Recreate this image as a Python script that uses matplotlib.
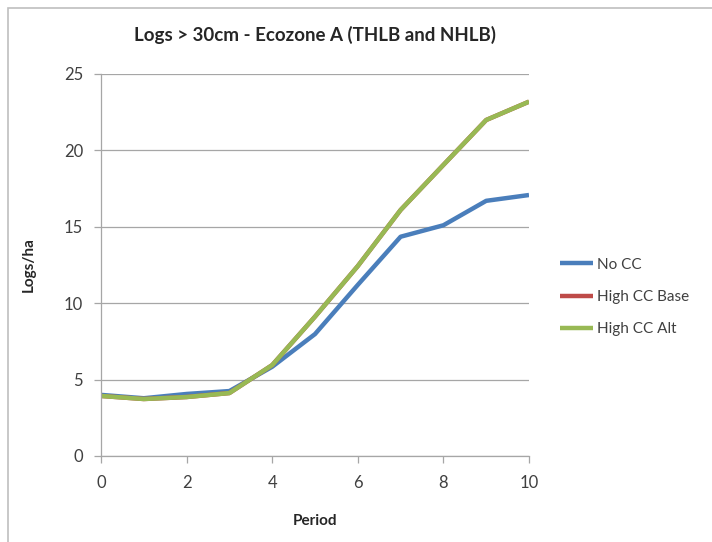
import matplotlib
matplotlib.use("Agg")
import matplotlib.pyplot as plt
from matplotlib.patches import Rectangle

periods = [0, 1, 2, 3, 4, 5, 6, 7, 8, 9, 10]
no_cc = [4.0, 3.78, 4.06, 4.25, 5.84, 7.98, 11.2, 14.35, 15.1, 16.7, 17.08]
high_cc_base = [3.93, 3.73, 3.86, 4.12, 5.95, 9.12, 12.43, 16.1, 19.05, 21.99, 23.19]
high_cc_alt = [3.93, 3.73, 3.86, 4.12, 5.95, 9.12, 12.43, 16.1, 19.05, 21.99, 23.19]
series_names = ["No CC", "High CC Base", "High CC Alt"]
colors = ["#4A7EBB", "#BE4B48", "#98B954"]

plt.rcParams['font.family'] = ['Lato', 'DejaVu Sans']

fig = plt.figure(figsize=(7.12, 5.42), dpi=100)
fig.patches.append(Rectangle((8/712, -0.02), 1.0, 1 - 8/542 + 0.02, transform=fig.transFigure,
                             fill=False, edgecolor="#BFBFBF", linewidth=1.2))
ax = fig.add_axes([101/712, 1 - 456/542, (529 - 101)/712, (456 - 74)/542])

for vals, name, c in zip([no_cc, high_cc_base, high_cc_alt], series_names, colors):
    ax.plot(periods, vals, color=c, linewidth=3.2, label=name, solid_capstyle="butt")

ax.set_xlim(0, 10)
ax.set_ylim(0, 25)
ax.set_xticks([0, 2, 4, 6, 8, 10])
ax.set_yticks([0, 5, 10, 15, 20, 25])
ax.grid(axis="y", color="#A6A6A6", linewidth=0.9)
ax.set_axisbelow(True)
for s in ["top", "right"]:
    ax.spines[s].set_visible(False)
for s in ["left", "bottom"]:
    ax.spines[s].set_color("#A6A6A6")
    ax.spines[s].set_linewidth(0.9)
ax.tick_params(axis="both", colors="#A6A6A6", labelcolor="#404040", labelsize=12, length=5, width=0.9)
ax.tick_params(axis="x", pad=9)
ax.tick_params(axis="y", pad=8)

ax.set_xlabel("Period", fontsize=11, fontweight="bold", color="#262626", labelpad=16)
ax.set_ylabel("Logs/ha", fontsize=11, fontweight="bold", color="#262626", labelpad=20)
ax.set_title("Logs > 30cm - Ecozone A (THLB and NHLB)", fontsize=13.5, fontweight="bold",
             color="#262626", pad=24)

leg = ax.legend(loc="center left", bbox_to_anchor=(1.04, 0.416), frameon=False, fontsize=11,
                handlelength=2.2, handletextpad=0.2, labelspacing=1.2, labelcolor="#404040")

fig.savefig("out.png", dpi=100)
